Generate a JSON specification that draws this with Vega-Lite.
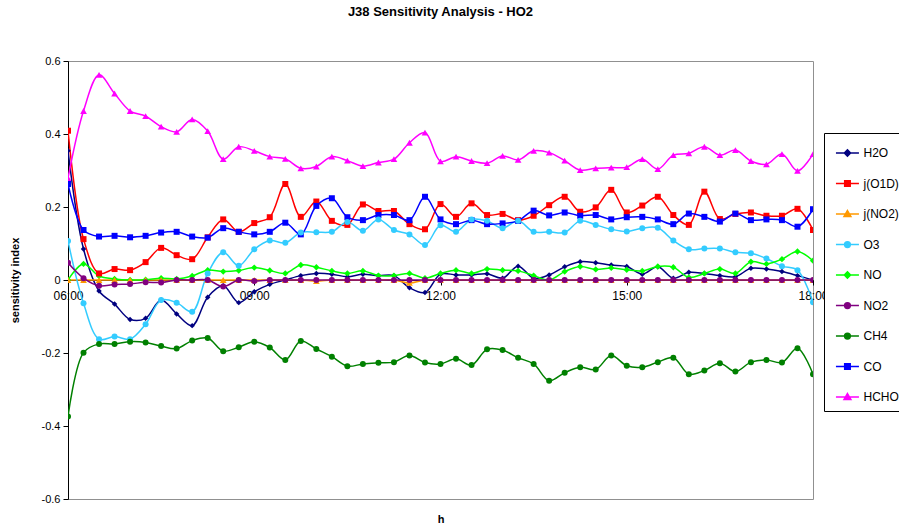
{
"$schema": "https://vega.github.io/schema/vega-lite/v6.json",
"width": 745, "height": 438,
"autosize": {"type": "none"},
"padding": {"left": 68, "top": 61, "right": 86, "bottom": 28},
"background": "white",
"title": {"text": "J38 Sensitivity Analysis - HO2", "font": "Liberation Sans", "fontSize": 13, "fontWeight": "bold", "color": "black", "anchor": "middle", "offset": 36},
"config": {"view": {"stroke": "#909090", "strokeWidth": 1}, "font": "Liberation Sans"},
"data": {"values": [
{"t":6,"s":"H2O","v":0.354},{"t":6.25,"s":"H2O","v":0.085},{"t":6.5,"s":"H2O","v":-0.030},{"t":6.75,"s":"H2O","v":-0.066},{"t":7,"s":"H2O","v":-0.108},{"t":7.25,"s":"H2O","v":-0.105},{"t":7.5,"s":"H2O","v":-0.055},{"t":7.75,"s":"H2O","v":-0.093},{"t":8,"s":"H2O","v":-0.125},{"t":8.25,"s":"H2O","v":-0.047},{"t":8.5,"s":"H2O","v":-0.016},{"t":8.75,"s":"H2O","v":-0.062},{"t":9,"s":"H2O","v":-0.032},{"t":9.25,"s":"H2O","v":-0.012},{"t":9.5,"s":"H2O","v":0.0},{"t":9.75,"s":"H2O","v":0.012},{"t":10,"s":"H2O","v":0.018},{"t":10.25,"s":"H2O","v":0.016},{"t":10.5,"s":"H2O","v":0.009},{"t":10.75,"s":"H2O","v":0.016},{"t":11,"s":"H2O","v":0.012},{"t":11.25,"s":"H2O","v":0.012},{"t":11.5,"s":"H2O","v":-0.021},{"t":11.75,"s":"H2O","v":-0.034},{"t":12,"s":"H2O","v":0.016},{"t":12.25,"s":"H2O","v":0.014},{"t":12.5,"s":"H2O","v":0.014},{"t":12.75,"s":"H2O","v":0.017},{"t":13,"s":"H2O","v":0.005},{"t":13.25,"s":"H2O","v":0.038},{"t":13.5,"s":"H2O","v":0.005},{"t":13.75,"s":"H2O","v":0.014},{"t":14,"s":"H2O","v":0.036},{"t":14.25,"s":"H2O","v":0.050},{"t":14.5,"s":"H2O","v":0.047},{"t":14.75,"s":"H2O","v":0.041},{"t":15,"s":"H2O","v":0.037},{"t":15.25,"s":"H2O","v":0.016},{"t":15.5,"s":"H2O","v":0.036},{"t":15.75,"s":"H2O","v":0.005},{"t":16,"s":"H2O","v":0.021},{"t":16.25,"s":"H2O","v":0.018},{"t":16.5,"s":"H2O","v":0.012},{"t":16.75,"s":"H2O","v":0.009},{"t":17,"s":"H2O","v":0.032},{"t":17.25,"s":"H2O","v":0.030},{"t":17.5,"s":"H2O","v":0.023},{"t":17.75,"s":"H2O","v":0.012},{"t":18,"s":"H2O","v":0.0},
{"t":6,"s":"j(O1D)","v":0.409},{"t":6.25,"s":"j(O1D)","v":0.112},{"t":6.5,"s":"j(O1D)","v":0.018},{"t":6.75,"s":"j(O1D)","v":0.030},{"t":7,"s":"j(O1D)","v":0.027},{"t":7.25,"s":"j(O1D)","v":0.049},{"t":7.5,"s":"j(O1D)","v":0.088},{"t":7.75,"s":"j(O1D)","v":0.068},{"t":8,"s":"j(O1D)","v":0.057},{"t":8.25,"s":"j(O1D)","v":0.117},{"t":8.5,"s":"j(O1D)","v":0.166},{"t":8.75,"s":"j(O1D)","v":0.132},{"t":9,"s":"j(O1D)","v":0.156},{"t":9.25,"s":"j(O1D)","v":0.172},{"t":9.5,"s":"j(O1D)","v":0.263},{"t":9.75,"s":"j(O1D)","v":0.173},{"t":10,"s":"j(O1D)","v":0.215},{"t":10.25,"s":"j(O1D)","v":0.162},{"t":10.5,"s":"j(O1D)","v":0.151},{"t":10.75,"s":"j(O1D)","v":0.207},{"t":11,"s":"j(O1D)","v":0.189},{"t":11.25,"s":"j(O1D)","v":0.189},{"t":11.5,"s":"j(O1D)","v":0.153},{"t":11.75,"s":"j(O1D)","v":0.139},{"t":12,"s":"j(O1D)","v":0.208},{"t":12.25,"s":"j(O1D)","v":0.173},{"t":12.5,"s":"j(O1D)","v":0.210},{"t":12.75,"s":"j(O1D)","v":0.178},{"t":13,"s":"j(O1D)","v":0.181},{"t":13.25,"s":"j(O1D)","v":0.164},{"t":13.5,"s":"j(O1D)","v":0.176},{"t":13.75,"s":"j(O1D)","v":0.205},{"t":14,"s":"j(O1D)","v":0.228},{"t":14.25,"s":"j(O1D)","v":0.187},{"t":14.5,"s":"j(O1D)","v":0.199},{"t":14.75,"s":"j(O1D)","v":0.247},{"t":15,"s":"j(O1D)","v":0.185},{"t":15.25,"s":"j(O1D)","v":0.204},{"t":15.5,"s":"j(O1D)","v":0.228},{"t":15.75,"s":"j(O1D)","v":0.178},{"t":16,"s":"j(O1D)","v":0.151},{"t":16.25,"s":"j(O1D)","v":0.242},{"t":16.5,"s":"j(O1D)","v":0.167},{"t":16.75,"s":"j(O1D)","v":0.181},{"t":17,"s":"j(O1D)","v":0.185},{"t":17.25,"s":"j(O1D)","v":0.176},{"t":17.5,"s":"j(O1D)","v":0.176},{"t":17.75,"s":"j(O1D)","v":0.195},{"t":18,"s":"j(O1D)","v":0.137},
{"t":6,"s":"j(NO2)","v":0},{"t":6.25,"s":"j(NO2)","v":0},{"t":6.5,"s":"j(NO2)","v":0},{"t":6.75,"s":"j(NO2)","v":0},{"t":7,"s":"j(NO2)","v":0},{"t":7.25,"s":"j(NO2)","v":0},{"t":7.5,"s":"j(NO2)","v":0},{"t":7.75,"s":"j(NO2)","v":0},{"t":8,"s":"j(NO2)","v":0},{"t":8.25,"s":"j(NO2)","v":0},{"t":8.5,"s":"j(NO2)","v":0},{"t":8.75,"s":"j(NO2)","v":0},{"t":9,"s":"j(NO2)","v":0},{"t":9.25,"s":"j(NO2)","v":0},{"t":9.5,"s":"j(NO2)","v":0},{"t":9.75,"s":"j(NO2)","v":0},{"t":10,"s":"j(NO2)","v":-0.003},{"t":10.25,"s":"j(NO2)","v":0},{"t":10.5,"s":"j(NO2)","v":0},{"t":10.75,"s":"j(NO2)","v":0},{"t":11,"s":"j(NO2)","v":0},{"t":11.25,"s":"j(NO2)","v":0},{"t":11.5,"s":"j(NO2)","v":-0.008},{"t":11.75,"s":"j(NO2)","v":0},{"t":12,"s":"j(NO2)","v":0},{"t":12.25,"s":"j(NO2)","v":0},{"t":12.5,"s":"j(NO2)","v":0},{"t":12.75,"s":"j(NO2)","v":0},{"t":13,"s":"j(NO2)","v":0},{"t":13.25,"s":"j(NO2)","v":0},{"t":13.5,"s":"j(NO2)","v":0},{"t":13.75,"s":"j(NO2)","v":0},{"t":14,"s":"j(NO2)","v":0},{"t":14.25,"s":"j(NO2)","v":0},{"t":14.5,"s":"j(NO2)","v":0},{"t":14.75,"s":"j(NO2)","v":0},{"t":15,"s":"j(NO2)","v":0},{"t":15.25,"s":"j(NO2)","v":0},{"t":15.5,"s":"j(NO2)","v":0},{"t":15.75,"s":"j(NO2)","v":0},{"t":16,"s":"j(NO2)","v":0},{"t":16.25,"s":"j(NO2)","v":0},{"t":16.5,"s":"j(NO2)","v":0},{"t":16.75,"s":"j(NO2)","v":0},{"t":17,"s":"j(NO2)","v":0},{"t":17.25,"s":"j(NO2)","v":0},{"t":17.5,"s":"j(NO2)","v":0},{"t":17.75,"s":"j(NO2)","v":0},{"t":18,"s":"j(NO2)","v":0},
{"t":6,"s":"O3","v":0.107},{"t":6.25,"s":"O3","v":-0.064},{"t":6.5,"s":"O3","v":-0.162},{"t":6.75,"s":"O3","v":-0.155},{"t":7,"s":"O3","v":-0.162},{"t":7.25,"s":"O3","v":-0.121},{"t":7.5,"s":"O3","v":-0.055},{"t":7.75,"s":"O3","v":-0.062},{"t":8,"s":"O3","v":-0.087},{"t":8.25,"s":"O3","v":0.018},{"t":8.5,"s":"O3","v":0.076},{"t":8.75,"s":"O3","v":0.039},{"t":9,"s":"O3","v":0.084},{"t":9.25,"s":"O3","v":0.108},{"t":9.5,"s":"O3","v":0.102},{"t":9.75,"s":"O3","v":0.130},{"t":10,"s":"O3","v":0.131},{"t":10.25,"s":"O3","v":0.132},{"t":10.5,"s":"O3","v":0.159},{"t":10.75,"s":"O3","v":0.135},{"t":11,"s":"O3","v":0.166},{"t":11.25,"s":"O3","v":0.137},{"t":11.5,"s":"O3","v":0.125},{"t":11.75,"s":"O3","v":0.096},{"t":12,"s":"O3","v":0.150},{"t":12.25,"s":"O3","v":0.132},{"t":12.5,"s":"O3","v":0.166},{"t":12.75,"s":"O3","v":0.162},{"t":13,"s":"O3","v":0.142},{"t":13.25,"s":"O3","v":0.162},{"t":13.5,"s":"O3","v":0.132},{"t":13.75,"s":"O3","v":0.132},{"t":14,"s":"O3","v":0.130},{"t":14.25,"s":"O3","v":0.162},{"t":14.5,"s":"O3","v":0.151},{"t":14.75,"s":"O3","v":0.139},{"t":15,"s":"O3","v":0.133},{"t":15.25,"s":"O3","v":0.142},{"t":15.5,"s":"O3","v":0.143},{"t":15.75,"s":"O3","v":0.108},{"t":16,"s":"O3","v":0.084},{"t":16.25,"s":"O3","v":0.086},{"t":16.5,"s":"O3","v":0.086},{"t":16.75,"s":"O3","v":0.076},{"t":17,"s":"O3","v":0.073},{"t":17.25,"s":"O3","v":0.059},{"t":17.5,"s":"O3","v":0.038},{"t":17.75,"s":"O3","v":0.027},{"t":18,"s":"O3","v":-0.061},
{"t":6,"s":"NO","v":0.0},{"t":6.25,"s":"NO","v":0.044},{"t":6.5,"s":"NO","v":0.011},{"t":6.75,"s":"NO","v":0.003},{"t":7,"s":"NO","v":0.0},{"t":7.25,"s":"NO","v":0.001},{"t":7.5,"s":"NO","v":0.005},{"t":7.75,"s":"NO","v":0.003},{"t":8,"s":"NO","v":0.011},{"t":8.25,"s":"NO","v":0.027},{"t":8.5,"s":"NO","v":0.023},{"t":8.75,"s":"NO","v":0.026},{"t":9,"s":"NO","v":0.034},{"t":9.25,"s":"NO","v":0.026},{"t":9.5,"s":"NO","v":0.018},{"t":9.75,"s":"NO","v":0.041},{"t":10,"s":"NO","v":0.035},{"t":10.25,"s":"NO","v":0.025},{"t":10.5,"s":"NO","v":0.018},{"t":10.75,"s":"NO","v":0.025},{"t":11,"s":"NO","v":0.012},{"t":11.25,"s":"NO","v":0.012},{"t":11.5,"s":"NO","v":0.018},{"t":11.75,"s":"NO","v":0.005},{"t":12,"s":"NO","v":0.018},{"t":12.25,"s":"NO","v":0.027},{"t":12.5,"s":"NO","v":0.018},{"t":12.75,"s":"NO","v":0.030},{"t":13,"s":"NO","v":0.027},{"t":13.25,"s":"NO","v":0.025},{"t":13.5,"s":"NO","v":0.012},{"t":13.75,"s":"NO","v":0.0},{"t":14,"s":"NO","v":0.023},{"t":14.25,"s":"NO","v":0.037},{"t":14.5,"s":"NO","v":0.029},{"t":14.75,"s":"NO","v":0.033},{"t":15,"s":"NO","v":0.028},{"t":15.25,"s":"NO","v":0.025},{"t":15.5,"s":"NO","v":0.037},{"t":15.75,"s":"NO","v":0.035},{"t":16,"s":"NO","v":0.007},{"t":16.25,"s":"NO","v":0.018},{"t":16.5,"s":"NO","v":0.030},{"t":16.75,"s":"NO","v":0.018},{"t":17,"s":"NO","v":0.050},{"t":17.25,"s":"NO","v":0.044},{"t":17.5,"s":"NO","v":0.057},{"t":17.75,"s":"NO","v":0.078},{"t":18,"s":"NO","v":0.053},
{"t":6,"s":"NO2","v":0.047},{"t":6.25,"s":"NO2","v":0.005},{"t":6.5,"s":"NO2","v":-0.016},{"t":6.75,"s":"NO2","v":-0.012},{"t":7,"s":"NO2","v":-0.011},{"t":7.25,"s":"NO2","v":-0.006},{"t":7.5,"s":"NO2","v":-0.007},{"t":7.75,"s":"NO2","v":0},{"t":8,"s":"NO2","v":0},{"t":8.25,"s":"NO2","v":0},{"t":8.5,"s":"NO2","v":-0.018},{"t":8.75,"s":"NO2","v":0},{"t":9,"s":"NO2","v":-0.003},{"t":9.25,"s":"NO2","v":0},{"t":9.5,"s":"NO2","v":0},{"t":9.75,"s":"NO2","v":0},{"t":10,"s":"NO2","v":0},{"t":10.25,"s":"NO2","v":0},{"t":10.5,"s":"NO2","v":0},{"t":10.75,"s":"NO2","v":0},{"t":11,"s":"NO2","v":0},{"t":11.25,"s":"NO2","v":0},{"t":11.5,"s":"NO2","v":0},{"t":11.75,"s":"NO2","v":0},{"t":12,"s":"NO2","v":0},{"t":12.25,"s":"NO2","v":0},{"t":12.5,"s":"NO2","v":0},{"t":12.75,"s":"NO2","v":0},{"t":13,"s":"NO2","v":0},{"t":13.25,"s":"NO2","v":0},{"t":13.5,"s":"NO2","v":0},{"t":13.75,"s":"NO2","v":0},{"t":14,"s":"NO2","v":0},{"t":14.25,"s":"NO2","v":0},{"t":14.5,"s":"NO2","v":0},{"t":14.75,"s":"NO2","v":0},{"t":15,"s":"NO2","v":0},{"t":15.25,"s":"NO2","v":0},{"t":15.5,"s":"NO2","v":0},{"t":15.75,"s":"NO2","v":0},{"t":16,"s":"NO2","v":0},{"t":16.25,"s":"NO2","v":0},{"t":16.5,"s":"NO2","v":0},{"t":16.75,"s":"NO2","v":0},{"t":17,"s":"NO2","v":0},{"t":17.25,"s":"NO2","v":0},{"t":17.5,"s":"NO2","v":0},{"t":17.75,"s":"NO2","v":0},{"t":18,"s":"NO2","v":0},
{"t":6,"s":"CH4","v":-0.374},{"t":6.25,"s":"CH4","v":-0.199},{"t":6.5,"s":"CH4","v":-0.175},{"t":6.75,"s":"CH4","v":-0.175},{"t":7,"s":"CH4","v":-0.169},{"t":7.25,"s":"CH4","v":-0.171},{"t":7.5,"s":"CH4","v":-0.181},{"t":7.75,"s":"CH4","v":-0.188},{"t":8,"s":"CH4","v":-0.166},{"t":8.25,"s":"CH4","v":-0.159},{"t":8.5,"s":"CH4","v":-0.195},{"t":8.75,"s":"CH4","v":-0.184},{"t":9,"s":"CH4","v":-0.169},{"t":9.25,"s":"CH4","v":-0.185},{"t":9.5,"s":"CH4","v":-0.219},{"t":9.75,"s":"CH4","v":-0.167},{"t":10,"s":"CH4","v":-0.189},{"t":10.25,"s":"CH4","v":-0.210},{"t":10.5,"s":"CH4","v":-0.236},{"t":10.75,"s":"CH4","v":-0.230},{"t":11,"s":"CH4","v":-0.227},{"t":11.25,"s":"CH4","v":-0.225},{"t":11.5,"s":"CH4","v":-0.207},{"t":11.75,"s":"CH4","v":-0.226},{"t":12,"s":"CH4","v":-0.230},{"t":12.25,"s":"CH4","v":-0.216},{"t":12.5,"s":"CH4","v":-0.233},{"t":12.75,"s":"CH4","v":-0.190},{"t":13,"s":"CH4","v":-0.192},{"t":13.25,"s":"CH4","v":-0.213},{"t":13.5,"s":"CH4","v":-0.230},{"t":13.75,"s":"CH4","v":-0.276},{"t":14,"s":"CH4","v":-0.254},{"t":14.25,"s":"CH4","v":-0.239},{"t":14.5,"s":"CH4","v":-0.245},{"t":14.75,"s":"CH4","v":-0.207},{"t":15,"s":"CH4","v":-0.235},{"t":15.25,"s":"CH4","v":-0.239},{"t":15.5,"s":"CH4","v":-0.225},{"t":15.75,"s":"CH4","v":-0.213},{"t":16,"s":"CH4","v":-0.258},{"t":16.25,"s":"CH4","v":-0.248},{"t":16.5,"s":"CH4","v":-0.228},{"t":16.75,"s":"CH4","v":-0.251},{"t":17,"s":"CH4","v":-0.225},{"t":17.25,"s":"CH4","v":-0.219},{"t":17.5,"s":"CH4","v":-0.226},{"t":17.75,"s":"CH4","v":-0.187},{"t":18,"s":"CH4","v":-0.258},
{"t":6,"s":"CO","v":0.263},{"t":6.25,"s":"CO","v":0.137},{"t":6.5,"s":"CO","v":0.119},{"t":6.75,"s":"CO","v":0.121},{"t":7,"s":"CO","v":0.117},{"t":7.25,"s":"CO","v":0.121},{"t":7.5,"s":"CO","v":0.130},{"t":7.75,"s":"CO","v":0.132},{"t":8,"s":"CO","v":0.119},{"t":8.25,"s":"CO","v":0.116},{"t":8.5,"s":"CO","v":0.142},{"t":8.75,"s":"CO","v":0.132},{"t":9,"s":"CO","v":0.125},{"t":9.25,"s":"CO","v":0.132},{"t":9.5,"s":"CO","v":0.157},{"t":9.75,"s":"CO","v":0.125},{"t":10,"s":"CO","v":0.203},{"t":10.25,"s":"CO","v":0.224},{"t":10.5,"s":"CO","v":0.172},{"t":10.75,"s":"CO","v":0.164},{"t":11,"s":"CO","v":0.178},{"t":11.25,"s":"CO","v":0.178},{"t":11.5,"s":"CO","v":0.164},{"t":11.75,"s":"CO","v":0.228},{"t":12,"s":"CO","v":0.166},{"t":12.25,"s":"CO","v":0.153},{"t":12.5,"s":"CO","v":0.164},{"t":12.75,"s":"CO","v":0.153},{"t":13,"s":"CO","v":0.155},{"t":13.25,"s":"CO","v":0.162},{"t":13.5,"s":"CO","v":0.190},{"t":13.75,"s":"CO","v":0.177},{"t":14,"s":"CO","v":0.185},{"t":14.25,"s":"CO","v":0.176},{"t":14.5,"s":"CO","v":0.178},{"t":14.75,"s":"CO","v":0.166},{"t":15,"s":"CO","v":0.172},{"t":15.25,"s":"CO","v":0.173},{"t":15.5,"s":"CO","v":0.166},{"t":15.75,"s":"CO","v":0.153},{"t":16,"s":"CO","v":0.182},{"t":16.25,"s":"CO","v":0.173},{"t":16.5,"s":"CO","v":0.160},{"t":16.75,"s":"CO","v":0.182},{"t":17,"s":"CO","v":0.164},{"t":17.25,"s":"CO","v":0.166},{"t":17.5,"s":"CO","v":0.164},{"t":17.75,"s":"CO","v":0.146},{"t":18,"s":"CO","v":0.194},
{"t":6,"s":"HCHO","v":0.279},{"t":6.25,"s":"HCHO","v":0.463},{"t":6.5,"s":"HCHO","v":0.562},{"t":6.75,"s":"HCHO","v":0.511},{"t":7,"s":"HCHO","v":0.463},{"t":7.25,"s":"HCHO","v":0.449},{"t":7.5,"s":"HCHO","v":0.420},{"t":7.75,"s":"HCHO","v":0.406},{"t":8,"s":"HCHO","v":0.440},{"t":8.25,"s":"HCHO","v":0.408},{"t":8.5,"s":"HCHO","v":0.331},{"t":8.75,"s":"HCHO","v":0.365},{"t":9,"s":"HCHO","v":0.354},{"t":9.25,"s":"HCHO","v":0.338},{"t":9.5,"s":"HCHO","v":0.332},{"t":9.75,"s":"HCHO","v":0.306},{"t":10,"s":"HCHO","v":0.311},{"t":10.25,"s":"HCHO","v":0.338},{"t":10.5,"s":"HCHO","v":0.327},{"t":10.75,"s":"HCHO","v":0.312},{"t":11,"s":"HCHO","v":0.322},{"t":11.25,"s":"HCHO","v":0.331},{"t":11.5,"s":"HCHO","v":0.376},{"t":11.75,"s":"HCHO","v":0.404},{"t":12,"s":"HCHO","v":0.325},{"t":12.25,"s":"HCHO","v":0.338},{"t":12.5,"s":"HCHO","v":0.326},{"t":12.75,"s":"HCHO","v":0.320},{"t":13,"s":"HCHO","v":0.340},{"t":13.25,"s":"HCHO","v":0.329},{"t":13.5,"s":"HCHO","v":0.354},{"t":13.75,"s":"HCHO","v":0.349},{"t":14,"s":"HCHO","v":0.327},{"t":14.25,"s":"HCHO","v":0.301},{"t":14.5,"s":"HCHO","v":0.306},{"t":14.75,"s":"HCHO","v":0.308},{"t":15,"s":"HCHO","v":0.309},{"t":15.25,"s":"HCHO","v":0.331},{"t":15.5,"s":"HCHO","v":0.304},{"t":15.75,"s":"HCHO","v":0.342},{"t":16,"s":"HCHO","v":0.347},{"t":16.25,"s":"HCHO","v":0.365},{"t":16.5,"s":"HCHO","v":0.342},{"t":16.75,"s":"HCHO","v":0.356},{"t":17,"s":"HCHO","v":0.326},{"t":17.25,"s":"HCHO","v":0.317},{"t":17.5,"s":"HCHO","v":0.345},{"t":17.75,"s":"HCHO","v":0.299},{"t":18,"s":"HCHO","v":0.345}
]},
"encoding": {
  "y": {"field": "v", "type": "quantitative", "scale": {"domain": [-0.6, 0.6], "nice": false, "zero": false},
    "axis": {"values": [-0.6, -0.4, -0.2, 0, 0.2, 0.4, 0.6], "labelExpr": "datum.value == 0 ? '0' : (datum.value < 0 ? '-' : '') + format(abs(datum.value), '.1f')", "grid": false, "title": "sensitivity index", "titleFont": "Liberation Sans", "titleFontSize": 11, "titleFontWeight": "bold", "titleColor": "black", "titleX": -53, "titleBaseline": "middle", "labelFont": "Liberation Sans", "labelFontSize": 11, "labelColor": "black", "labelPadding": 3, "tickSize": 5, "tickColor": "black", "domainColor": "black", "labelFlush": false, "labelOverlap": false}}
},
"layer": [
  {"mark": {"type": "line", "interpolate": "catmull-rom", "strokeWidth": 1.5, "clip": true},
   "encoding": {
     "x": {"field": "t", "type": "quantitative", "scale": {"domain": [6, 18], "nice": false, "zero": false},
       "axis": {"orient": "bottom", "values": [6, 9, 12, 15, 18], "labelExpr": "(datum.value < 10 ? '0' : '') + datum.value + ':00'", "offset": -219, "title": null, "grid": false, "domainColor": "black", "tickColor": "black", "tickSize": 5, "labelFont": "Liberation Sans", "labelFontSize": 12, "labelColor": "black", "labelPadding": 5, "labelFlush": false, "labelOverlap": false}},
     "color": {"field": "s", "type": "nominal",
       "scale": {"domain": ["H2O", "j(O1D)", "j(NO2)", "O3", "NO", "NO2", "CH4", "CO", "HCHO"], "range": ["#000080", "#FF0000", "#FF9900", "#33CCFF", "#00FF00", "#800080", "#008000", "#0000FF", "#FF00FF"]},
       "legend": {"orient": "none", "legendX": 756, "legendY": 72, "title": null, "strokeColor": "black", "fillColor": "white", "padding": 7.5, "labelFont": "Liberation Sans", "labelFontSize": 12, "labelColor": "black", "labelOffset": 7, "symbolSize": 529, "symbolStrokeWidth": 1.5, "rowPadding": 11.5, "labelLimit": 200,
         "encode": {"symbols": {"update": {
           "shape": {"signal": "(datum.value == 'H2O' || datum.value == 'NO') ? 'M-0.7,0H1.3M0.3,-0.27L0.57,0L0.3,0.27L0.03,0Z' : (datum.value == 'j(O1D)' || datum.value == 'CO') ? 'M-0.7,0H1.3M0.06,-0.24H0.54V0.24H0.06Z' : (datum.value == 'j(NO2)' || datum.value == 'HCHO') ? 'M-0.7,0H1.3M0.3,-0.3L0.6,0.22H0Z' : 'M-0.7,0H1.3M0.05,0A0.25,0.25,0,1,0,0.55,0A0.25,0.25,0,1,0,0.05,0Z'"},
           "fill": {"scale": "color", "field": "value"},
           "stroke": {"scale": "color", "field": "value"},
           "size": {"value": 529},
           "strokeWidth": {"value": 1.5},
           "opacity": {"value": 1}}}}}}
   }},
  {"transform": [{"filter": "datum.s == 'H2O'"}],
   "mark": {"type": "point", "filled": true, "opacity": 1, "clip": true, "shape": "diamond", "size": 30},
   "encoding": {
     "x": {"field": "t", "type": "quantitative", "axis": {"orient": "bottom", "title": "h", "labels": false, "ticks": false, "domain": false, "grid": false, "titleFont": "Liberation Sans", "titleFontSize": 11, "titleFontWeight": "bold", "titleColor": "black", "titlePadding": 14}},
     "color": {"field": "s", "type": "nominal", "legend": null}
   }},
  {"transform": [{"filter": "datum.s == 'NO'"}],
   "mark": {"type": "point", "filled": true, "opacity": 1, "clip": true, "shape": "diamond", "size": 40},
   "encoding": {
     "x": {"field": "t", "type": "quantitative", "axis": null},
     "color": {"field": "s", "type": "nominal", "legend": null}
   }},
  {"transform": [{"filter": "datum.s == 'j(O1D)' || datum.s == 'CO'"}],
   "mark": {"type": "point", "filled": true, "opacity": 1, "clip": true, "shape": "square", "size": 36},
   "encoding": {
     "x": {"field": "t", "type": "quantitative", "axis": null},
     "color": {"field": "s", "type": "nominal", "legend": null}
   }},
  {"transform": [{"filter": "datum.s == 'j(NO2)' || datum.s == 'HCHO'"}],
   "mark": {"type": "point", "filled": true, "opacity": 1, "clip": true, "shape": "triangle-up", "size": 45},
   "encoding": {
     "x": {"field": "t", "type": "quantitative", "axis": null},
     "color": {"field": "s", "type": "nominal", "legend": null}
   }},
  {"transform": [{"filter": "datum.s == 'O3' || datum.s == 'NO2' || datum.s == 'CH4'"}],
   "mark": {"type": "point", "filled": true, "opacity": 1, "clip": true, "shape": "circle", "size": 36},
   "encoding": {
     "x": {"field": "t", "type": "quantitative", "axis": null},
     "color": {"field": "s", "type": "nominal", "legend": null}
   }}
],
"resolve": {"axis": {"x": "independent"}, "legend": {"color": "independent"}}
}
